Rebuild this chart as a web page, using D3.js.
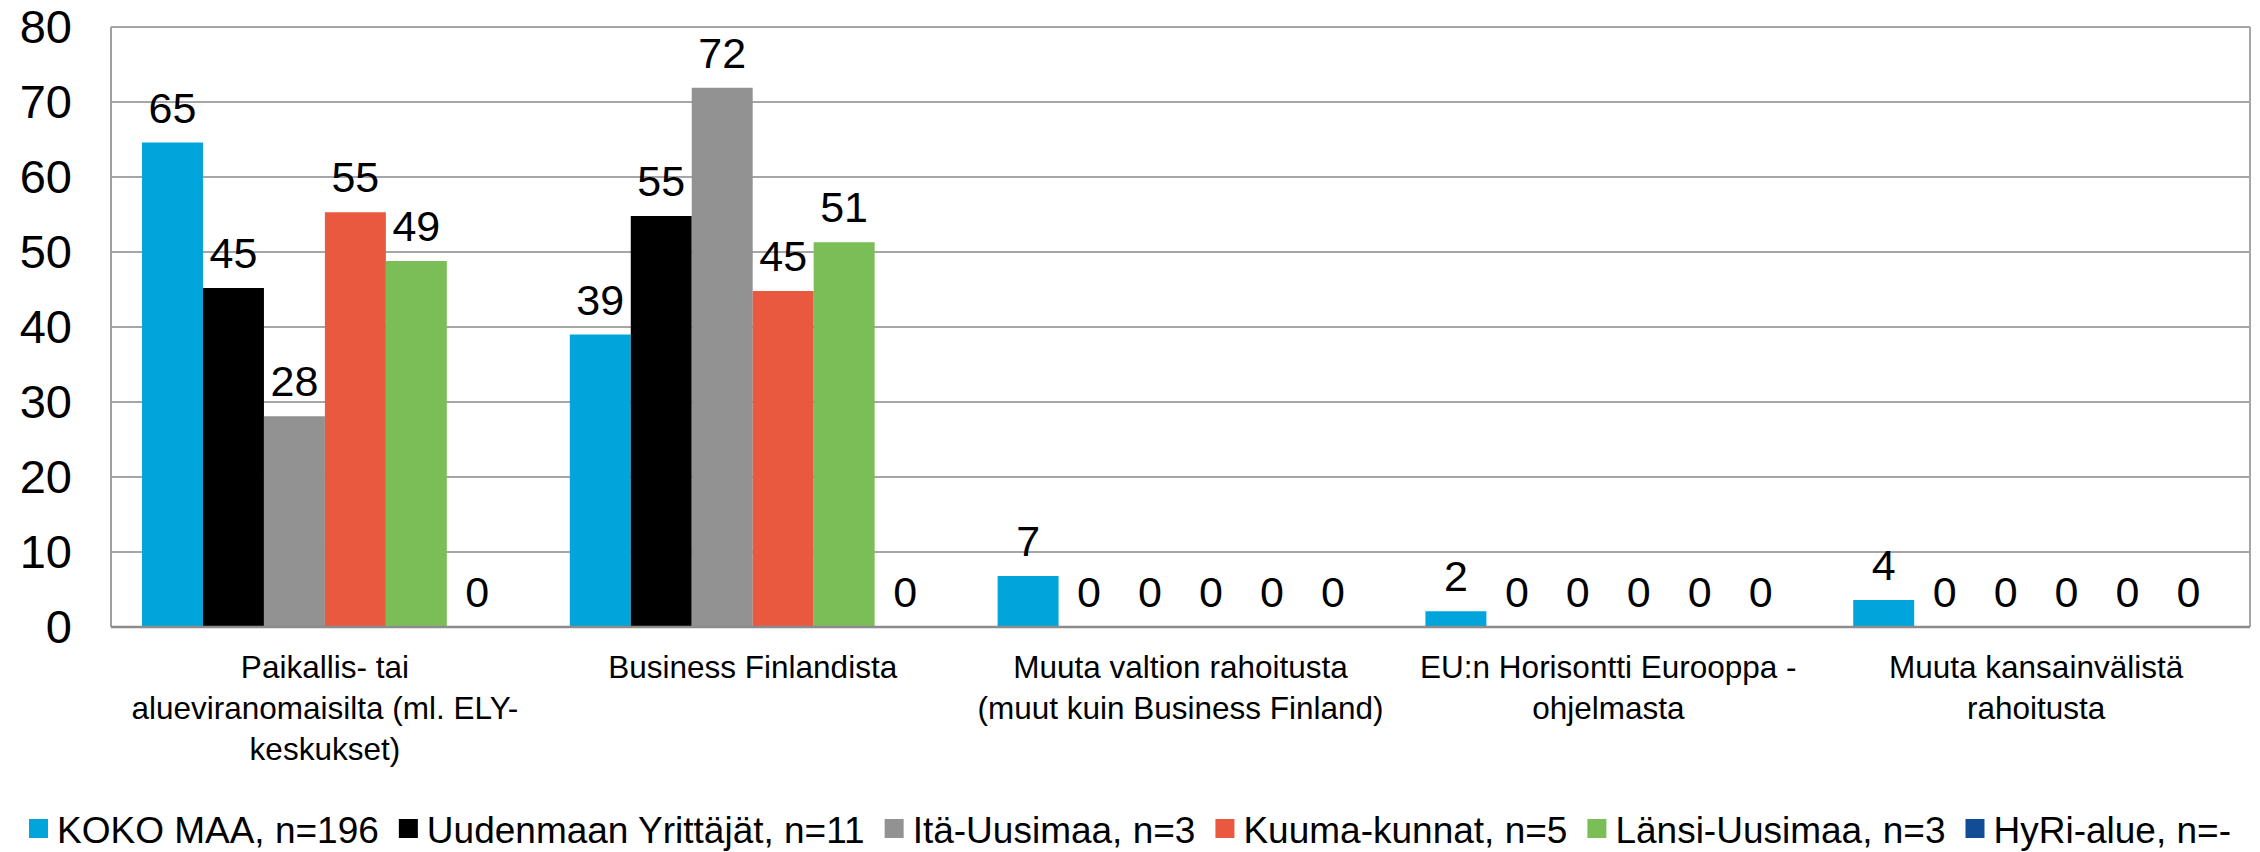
<!DOCTYPE html>
<html>
<head>
<meta charset="utf-8">
<script src="https://cdn.jsdelivr.net/npm/d3@7"></script>
<style>
  body { margin: 0; background: #fff; }
  svg text { font-family: "Liberation Sans", Arial, sans-serif; fill: #000; }
</style>
</head>
<body>
<div id="chart"></div>
<script>
// categories (each one already split into its label lines)
var categories = [
  ["Paikallis- tai", "alueviranomaisilta (ml. ELY-", "keskukset)"],
  ["Business Finlandista"],
  ["Muuta valtion rahoitusta", "(muut kuin Business Finland)"],
  ["EU:n Horisontti Eurooppa -", "ohjelmasta"],
  ["Muuta kansainvälistä", "rahoitusta"]
];
var seriesNames = ["KOKO MAA, n=196", "Uudenmaan Yrittäjät, n=11", "Itä-Uusimaa, n=3",
  "Kuuma-kunnat, n=5", "Länsi-Uusimaa, n=3", "HyRi-alue, n=-"];
var seriesColors = ["#02a5db", "#000000", "#929292", "#e8593f", "#7bbd57", "#124b96"];

var kokoMaa     = [64.6, 39.0, 6.8, 2.1, 3.6];
var uudenmaan   = [45.2, 54.8, 0, 0, 0];
var itaUusimaa  = [28.1, 71.9, 0, 0, 0];
var kuumaKunnat = [55.3, 44.8, 0, 0, 0];
var lansiUusimaa = [48.8, 51.3, 0, 0, 0];
var hyriAlue    = [0, 0, 0, 0, 0];

var yTicks = [0, 10, 20, 30, 40, 50, 60, 70, 80];

var seriesValues = [kokoMaa, uudenmaan, itaUusimaa, kuumaKunnat, lansiUusimaa, hyriAlue];

var width = 2260, height = 852;
var margin = {top: 27, right: 10, bottom: 225, left: 111};

var svg = d3.select('#chart').append('svg')
  .attr('width', width)
  .attr('height', height);

var x0 = d3.scaleBand()
  .domain(d3.range(categories.length))
  .range([margin.left, width - margin.right])
  .paddingInner(0.145)
  .paddingOuter(0.0725);

var x1 = d3.scaleBand()
  .domain(d3.range(seriesNames.length))
  .range([0, x0.bandwidth()]);

var y = d3.scaleLinear()
  .domain([0, 80])
  .range([height - margin.bottom, margin.top]);

//gridlines
svg.append('g')
  .selectAll('line')
  .data(yTicks.slice(1))
  .enter().append('line')
    .attr('x1', margin.left)
    .attr('x2', width - margin.right)
    .attr('y1', function(d) { return y(d); })
    .attr('y2', function(d) { return y(d); })
    .attr('stroke', '#a6a6a6')
    .attr('stroke-width', 2);

//plot frame left and right
svg.append('line')
  .attr('x1', margin.left).attr('x2', margin.left)
  .attr('y1', y(80)).attr('y2', y(0))
  .attr('stroke', '#a0a0a0').attr('stroke-width', 2);
svg.append('line')
  .attr('x1', width - margin.right).attr('x2', width - margin.right)
  .attr('y1', y(80)).attr('y2', y(0))
  .attr('stroke', '#a6a6a6').attr('stroke-width', 2);

//y axis labels
var yAxis = d3.axisLeft(y).tickValues(yTicks).tickSize(0).tickPadding(39);
var yg = svg.append('g')
  .attr('transform', 'translate(' + margin.left + ',0)')
  .call(yAxis);
yg.select('.domain').remove();
yg.selectAll('text')
  .attr('font-size', 47)
  .attr('font-family', '"Liberation Sans", Arial, sans-serif')
  .attr('fill', '#000');

//bars
var groups = svg.append('g')
  .selectAll('g')
  .data(categories)
  .enter().append('g')
    .attr('transform', function(d, i) { return 'translate(' + x0(i) + ',0)'; });

groups.selectAll('rect')
  .data(function(d, i) { return seriesValues.map(function(s, k) { return {k: k, v: s[i]}; }); })
  .enter().append('rect')
    .attr('x', function(d) { return x1(d.k); })
    .attr('width', x1.bandwidth())
    .attr('y', function(d) { return y(d.v); })
    .attr('height', function(d) { return y(0) - y(d.v); })
    .attr('fill', function(d) { return seriesColors[d.k]; });

groups.selectAll('.value-label')
  .data(function(d, i) { return seriesValues.map(function(s, k) { return {k: k, v: s[i]}; }); })
  .enter().append('text')
    .attr('class', 'value-label')
    .attr('x', function(d) { return x1(d.k) + x1.bandwidth() / 2; })
    .attr('y', function(d) { return y(d.v) - 20; })
    .attr('text-anchor', 'middle')
    .attr('font-size', 43)
    .text(function(d) { return Math.round(d.v); });

//bottom axis line
svg.append('line')
  .attr('x1', margin.left).attr('x2', width - margin.right)
  .attr('y1', y(0)).attr('y2', y(0))
  .attr('stroke', '#8c8c8c').attr('stroke-width', 2.5);

//category labels
var catLabels = svg.append('g')
  .selectAll('text')
  .data(categories)
  .enter().append('text')
    .attr('text-anchor', 'middle')
    .attr('font-size', 31.5)
    .attr('transform', function(d, i) { return 'translate(' + (x0(i) + x0.bandwidth() / 2) + ',' + (y(0) + 51) + ')'; });
catLabels.selectAll('tspan')
  .data(function(d) { return d; })
  .enter().append('tspan')
    .attr('x', 0)
    .attr('y', function(d, i) { return i * 41; })
    .text(function(d) { return d; });

//legend
var legend = svg.append('g').attr('class', 'legend');
var items = legend.selectAll('g')
  .data(seriesNames)
  .enter().append('g');
items.append('rect')
  .attr('width', 19).attr('height', 19)
  .attr('y', -24)
  .attr('fill', function(d, i) { return seriesColors[i]; });
items.append('text')
  .attr('x', 28)
  .attr('font-size', 37)
  .text(function(d) { return d; });

var offsets = [], cx = 0;
items.each(function() {
  offsets.push(cx);
  cx += 28 + d3.select(this).select('text').node().getComputedTextLength() + 20;
});
var legendWidth = cx - 20;
var legendStart = (width - legendWidth) / 2;
items.attr('transform', function(d, i) { return 'translate(' + (legendStart + offsets[i]) + ',843)'; });
</script>
</body>
</html>
